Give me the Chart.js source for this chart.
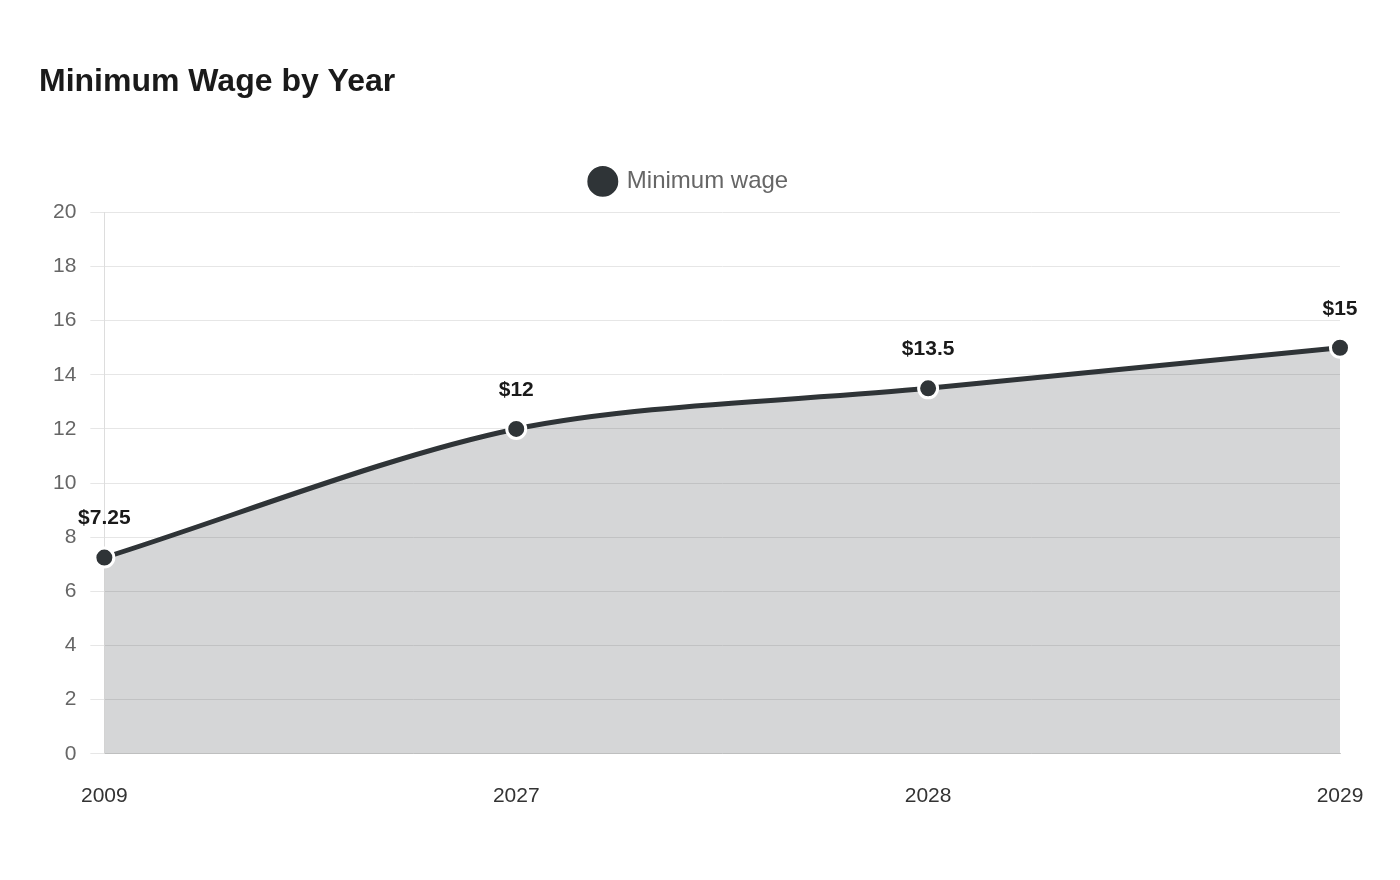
<!DOCTYPE html>
<html>
<head>
<meta charset="utf-8">
<script src="https://cdn.jsdelivr.net/npm/chart.js@4/dist/chart.umd.min.js"></script>
<style>
  html, body { margin: 0; padding: 0; background: #fff; }
  #wrap { width: 1400px; height: 880px; }
</style>
</head>
<body>
<div id="wrap"><canvas id="wageChart"></canvas></div>
<script>
const years = ['2009', '2027', '2028', '2029'];
const wages = [7.25, 12, 13.5, 15];
const wageLabels = ['$7.25', '$12', '$13.5', '$15'];

const FONT = '"Liberation Sans", Arial, sans-serif';

// draws the dollar labels above each point
const pointLabels = {
    id: 'pointLabels',
    afterDatasetsDraw(chart) {
        const ctx = chart.ctx;
        const meta = chart.getDatasetMeta(0);
        ctx.save();
        ctx.font = 'bold 21px ' + FONT;
        ctx.fillStyle = '#1a1a1a';
        ctx.textAlign = 'center';
        ctx.textBaseline = 'middle';
        meta.data.forEach((pt, i) => {
            ctx.fillText(wageLabels[i], pt.x, pt.y - 39);
        });
        ctx.restore();
    }
};

// extra space under the legend
const legendGap = {
    id: 'legendGap',
    beforeInit(chart) {
        const fit = chart.legend.fit;
        chart.legend.fit = function () {
            fit.call(this);
            this.height += 9;
        };
    }
};

document.addEventListener('DOMContentLoaded', () => {
    const ctx = document.getElementById('wageChart');

    new Chart(ctx, {
        type: 'line',
        data: {
            labels: years,
            datasets: [{
                label: 'Minimum wage',
                data: wages,
                borderColor: '#2f3437',
                backgroundColor: 'rgba(47,52,55,0.2)',
                fill: true,
                borderWidth: 5,
                tension: 0.3,
                pointRadius: 9.5,
                pointHoverRadius: 9.5,
                pointBackgroundColor: '#2f3437',
                pointBorderColor: '#ffffff',
                pointBorderWidth: 3
            }]
        },
        options: {
            responsive: true,
            maintainAspectRatio: false,
            animation: false,
            layout: {
                padding: { top: 63, left: 39, right: 60, bottom: 49 }
            },
            plugins: {
                title: {
                    display: true,
                    text: 'Minimum Wage by Year',
                    align: 'start',
                    color: '#1a1a1a',
                    font: { family: FONT, size: 32, weight: 'bold' },
                    padding: { top: 0, bottom: 46 }
                },
                legend: {
                    position: 'top',
                    labels: {
                        usePointStyle: true,
                        pointStyle: 'circle',
                        boxWidth: 30,
                        boxHeight: 30,
                        color: '#666',
                        font: { family: FONT, size: 24 },
                        padding: 22
                    }
                },
                tooltip: { enabled: false }
            },
            scales: {
                x: {
                    offset: false,
                    grid: { display: false },
                    border: { display: true, color: '#cccccc' },
                    ticks: {
                        color: '#333',
                        padding: 22,
                        font: { family: FONT, size: 21 }
                    }
                },
                y: {
                    min: 0,
                    max: 20,
                    ticks: {
                        stepSize: 2,
                        color: '#666',
                        padding: 14,
                        font: { family: FONT, size: 21 }
                    },
                    grid: { color: '#e6e6e6', tickLength: 14 },
                    border: { color: '#dddddd' }
                }
            }
        },
        plugins: [pointLabels, legendGap]
    });
});
</script>
</body>
</html>
